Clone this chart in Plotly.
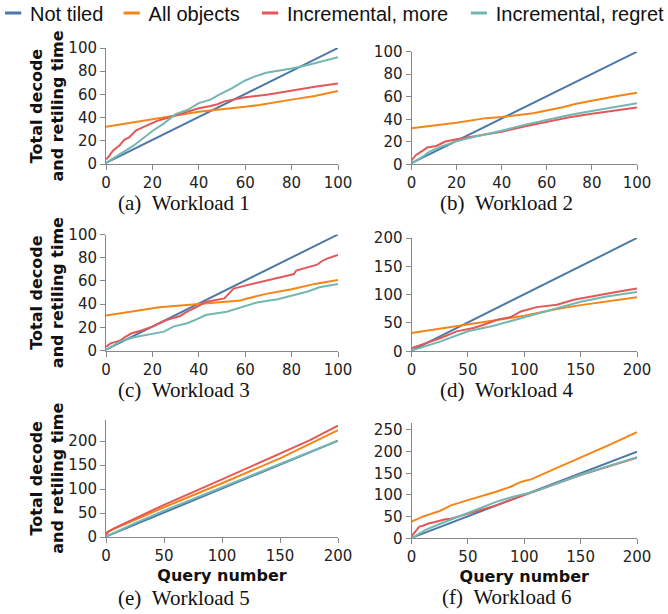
import plotly.graph_objects as go

W, H = 668, 614

SERIES = ["Not tiled", "All objects", "Incremental, more", "Incremental, regret"]
COLORS = ["#4c78a8", "#f58518", "#e45756", "#72b7b2"]
CAPTIONS = ["(a)\u2002Workload 1", "(b)\u2002Workload 2", "(c)\u2002Workload 3",
            "(d)\u2002Workload 4", "(e)\u2002Workload 5", "(f)\u2002Workload 6"]
Y_TITLE = "Total decode<br>and retiling time"
X_TITLE = "Query number"

# ---------------- Workload 1 ----------------
w1_not_x = [0, 100]
w1_not_y = [1, 100]
w1_all_x = [0, 20, 40, 60, 66, 80, 90, 100]
w1_all_y = [32, 38.6, 45, 49.3, 50.9, 55.5, 58.6, 62.9]
w1_more_x = [0, 1, 3, 6, 8, 10, 13, 15, 18, 22, 26, 30, 35, 40, 45, 48, 51, 55, 60, 70, 80, 90, 100]
w1_more_y = [4, 6, 11.5, 16.4, 21, 23, 29, 30.7, 33.6, 37.2, 39.4, 42, 45, 48, 50, 51.5, 54, 55.5, 57.5, 60, 63.5, 66.5, 69.5]
w1_regret_x = [0, 12, 20, 25, 30, 35, 40, 45, 49, 54, 60, 64, 69, 75, 80, 87, 92, 100]
w1_regret_y = [1, 16, 28.5, 35, 43, 46.5, 52.5, 55.5, 60, 65, 72, 75.3, 78.7, 80.5, 82.3, 85.3, 88, 92]

# ---------------- Workload 2 ----------------
w2_not_x = [0, 100]
w2_not_y = [1, 100]
w2_all_x = [0, 20, 33, 40, 54, 60, 67, 73, 80, 90, 100]
w2_all_y = [32, 37, 41, 42, 45.4, 47.8, 50.7, 53.7, 56.5, 60.2, 63.6]
w2_more_x = [0, 2, 5, 7, 11, 15, 20, 27, 40, 50, 60, 70, 80, 90, 100]
w2_more_y = [3.5, 8.3, 12.2, 15, 16.3, 20.2, 22.3, 24.6, 29, 33.5, 37.8, 41.7, 44.9, 47.8, 50.4]
w2_regret_x = [0, 5, 8, 13, 20, 27, 40, 50, 60, 70, 80, 90, 100]
w2_regret_y = [1, 6.8, 11.3, 15.7, 20.4, 24, 29.8, 35, 39.4, 43.8, 47.3, 51, 54.2]

# ---------------- Workload 3 ----------------
w3_not_x = [0, 100]
w3_not_y = [1, 100]
w3_all_x = [0, 20, 23, 40, 52, 58, 60, 69, 80, 90, 100]
w3_all_y = [30.2, 36, 37.4, 40.2, 42.2, 43.1, 44.5, 48.9, 52.9, 57.5, 60.9]
w3_more_x = [0, 2, 6, 8, 11, 15, 20, 23, 26, 32, 35, 40, 43, 51, 55, 60, 69, 78, 81, 82, 91, 93, 95, 98, 100]
w3_more_y = [3.4, 6.3, 8.6, 11.5, 15, 17.2, 20.7, 23.6, 26.4, 29.9, 33.6, 38.5, 42, 45, 53.5, 56, 60, 64.5, 66, 69, 74, 77, 79, 81.5, 82.5]
w3_regret_x = [0, 6, 12, 20, 25, 29, 35, 39, 43, 52, 60, 65, 74, 80, 87, 92, 100]
w3_regret_y = [0.6, 7.8, 11.5, 14.9, 16.4, 20.7, 23.6, 27, 30.7, 33.6, 38.5, 41.4, 44.3, 47.1, 50.9, 54.6, 57.5]

# ---------------- Workload 4 ----------------
w4_not_x = [0, 200]
w4_not_y = [1, 200]
w4_all_x = [0, 50, 100, 130, 150, 200]
w4_all_y = [32.3, 47.5, 62.8, 75, 81.5, 95.6]
w4_more_x = [0, 11, 26, 40, 55, 64, 76, 88, 97, 111, 129, 144, 162, 179, 200]
w4_more_y = [5.5, 13.5, 23.5, 35.2, 41, 46.9, 55.7, 60.4, 70.4, 78, 82.1, 90.9, 97.9, 103.8, 111]
w4_regret_x = [0, 26, 50, 73, 100, 126, 150, 173, 200]
w4_regret_y = [1.5, 17.6, 35.5, 45, 60, 74, 87.5, 96.8, 104.8]

# ---------------- Workload 5 ----------------
w5_not_x = [0, 200]
w5_not_y = [1, 201]
w5_all_x = [0, 5, 50, 100, 150, 175, 200]
w5_all_y = [9, 15, 62, 112, 164, 193, 223]
w5_more_x = [0, 2, 6, 50, 100, 150, 175, 200]
w5_more_y = [4, 11, 17, 67, 120, 174, 201, 232]
w5_regret_x = [0, 25, 50, 75, 100, 150, 200]
w5_regret_y = [1, 29, 55, 79.5, 103, 151.5, 201]

# ---------------- Workload 6 ----------------
w6_not_x = [0, 200]
w6_not_y = [1, 200]
w6_all_x = [0, 10, 25, 35, 50, 62, 75, 88, 95, 100, 106, 125, 150, 175, 200]
w6_all_y = [38.5, 50, 63, 76, 88, 97, 107.5, 119, 128, 132, 136, 158, 186, 215, 245]
w6_more_x = [0, 3, 7, 10, 15, 20, 25, 30, 35, 40, 50, 75, 100, 107, 150, 200]
w6_more_y = [5, 15, 27, 29, 34, 37, 40, 44, 45, 49, 56, 76, 100, 106, 146, 186]
w6_regret_x = [0, 12, 25, 50, 75, 90, 100, 107, 150, 200]
w6_regret_y = [0, 19, 33, 58.5, 84, 96, 102.5, 106, 146.5, 187]

PANEL_DATA = [
    [(w1_not_x, w1_not_y), (w1_all_x, w1_all_y), (w1_more_x, w1_more_y), (w1_regret_x, w1_regret_y)],
    [(w2_not_x, w2_not_y), (w2_all_x, w2_all_y), (w2_more_x, w2_more_y), (w2_regret_x, w2_regret_y)],
    [(w3_not_x, w3_not_y), (w3_all_x, w3_all_y), (w3_more_x, w3_more_y), (w3_regret_x, w3_regret_y)],
    [(w4_not_x, w4_not_y), (w4_all_x, w4_all_y), (w4_more_x, w4_more_y), (w4_regret_x, w4_regret_y)],
    [(w5_not_x, w5_not_y), (w5_all_x, w5_all_y), (w5_more_x, w5_more_y), (w5_regret_x, w5_regret_y)],
    [(w6_not_x, w6_not_y), (w6_all_x, w6_all_y), (w6_more_x, w6_more_y), (w6_regret_x, w6_regret_y)],
]
X_MAX = [100, 100, 100, 200, 200, 200]
Y_MAX = [100, 100, 100, 200, 245, 266]
TICK_STEP = [20, 20, 20, 50, 50, 50]

# layout geometry (pixels): left, right, top, bottom of each plot area
PANEL_PX = [
    (106, 338, 48, 164),
    (411.5, 637, 51.7, 164.3),
    (106, 338, 234.5, 350.7),
    (411.5, 637, 238, 351.3),
    (106, 338, 419.5, 537),
    (411.5, 637, 423, 538.3),
]
CAPTION_PX = [(183.5, 203), (506.5, 203), (184, 390), (506.5, 390.5), (184, 598), (506.5, 597)]

TICK_FONT = dict(family="DejaVu Sans", size=15, color="#222")
TITLE_FONT = dict(family="DejaVu Sans", size=16, color="#111", weight="bold")

fig = go.Figure()
layout = dict(
    width=W, height=H,
    margin=dict(l=0, r=0, t=0, b=0, autoexpand=False),
    paper_bgcolor="white", plot_bgcolor="white",
    showlegend=True,
    annotations=[],
)

for i, data in enumerate(PANEL_DATA):
    n = "" if i == 0 else str(i + 1)
    xa, ya = "x" + n, "y" + n
    for (xs, ys), color in zip(data, COLORS):
        fig.add_trace(go.Scatter(x=xs, y=ys, mode="lines", xaxis=xa, yaxis=ya,
                                 line=dict(color=color, width=2), showlegend=False,
                                 hoverinfo="skip"))
    l, r, t, b = PANEL_PX[i]
    common = dict(showline=True, linecolor="#888", linewidth=1, ticks="outside",
                  ticklen=5, tickcolor="#888", tickwidth=1, showgrid=False,
                  zeroline=False, tickfont=TICK_FONT, tick0=0, dtick=TICK_STEP[i])
    layout["xaxis" + n] = dict(domain=[l / W, r / W], anchor=ya,
                               range=[0, X_MAX[i]], **common)
    layout["yaxis" + n] = dict(domain=[(H - b) / H, (H - t) / H], anchor=xa,
                               range=[0, Y_MAX[i]], **common)
    if i % 2 == 0:
        layout["yaxis" + n]["title"] = dict(text=Y_TITLE, font=TITLE_FONT, standoff=0)
    if i >= 4:
        layout["xaxis" + n]["title"] = dict(text=X_TITLE, font=TITLE_FONT, standoff=5)
    cx, cy = CAPTION_PX[i]
    layout["annotations"].append(dict(
        text=CAPTIONS[i], x=cx / W, y=(H - cy) / H, xref="paper", yref="paper",
        xanchor="center", yanchor="middle", showarrow=False,
        font=dict(family="Liberation Serif", size=21, color="#111")))

# legend entries (one legend per entry so they can be placed like the original)
LEGEND_TEXT_PX = [30, 148.6, 287, 495.8]
for k, (name, color) in enumerate(zip(SERIES, COLORS)):
    lg = "legend" if k == 0 else "legend" + str(k + 1)
    fig.add_trace(go.Scatter(x=[None], y=[None], mode="markers", name=name,
                             legend=lg,
                             marker=dict(symbol="line-ew", size=16, color=color,
                                         line=dict(color=color, width=3))))
    layout[lg] = dict(x=max(0, LEGEND_TEXT_PX[k] - 25) / W, xref="container",
                      y=1 - 13 / H, yref="container", xanchor="left", yanchor="middle",
                      orientation="h", bgcolor="rgba(0,0,0,0)", borderwidth=0,
                      indentation=-15,
                      font=dict(family="Liberation Sans", size=20, color="#111"))

fig.update_layout(**layout)
fig.write_html("out.html", config={"displayModeBar": False},
               post_script="document.body.style.margin='0px';")
